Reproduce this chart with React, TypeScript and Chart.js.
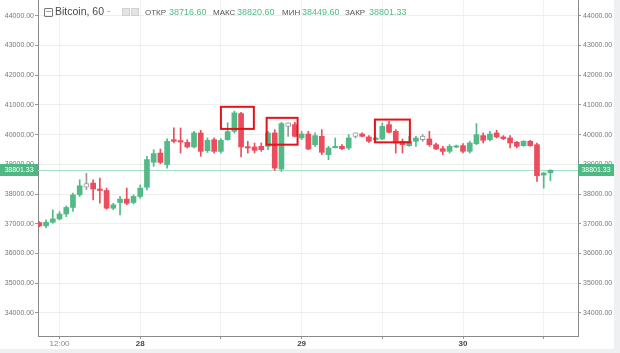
import React, { useEffect, useRef } from "react";
import { Chart, registerables } from "chart.js";
Chart.register(...registerables);

// hour offsets relative to 28 00:00; first candle is 27th 09:00
const START_HOUR = -15;
const opens = [37040, 36930, 37050, 37165, 37330, 37550, 37975, 38290, 38370, 38170, 38120, 37525, 37715, 37830, 37715, 37920, 38230, 39070, 39380, 38990, 39830, 39800, 39740, 39585, 40056, 39460, 39830, 39437, 39830, 40112, 40708, 39595, 39583, 39606, 39606, 40056, 38841, 40337, 40337, 39887, 40022, 39662, 39943, 39325, 39561, 39606, 39550, 39999, 40022, 39921, 39831, 39853, 40337, 40112, 39775, 39628, 39775, 39887, 39853, 39662, 39527, 39437, 39583, 39628, 39437, 39696, 39966, 39831, 40056, 39921, 39887, 39741, 39628, 39775, 39662, 38639, 38716.6];
const highs = [37075, 37130, 37470, 37410, 37600, 38030, 38480, 38700, 38480, 38537, 38200, 37690, 37920, 38200, 37975, 38310, 39270, 39490, 39516, 39855, 40225, 40225, 39830, 40110, 40146, 39890, 39890, 39870, 40400, 40790, 40753, 39775, 39718, 39718, 40112, 40168, 40416, 40393, 40416, 40112, 40112, 40056, 40168, 39606, 39887, 39662, 40000, 40056, 40056, 39966, 39921, 40393, 40450, 40168, 39853, 39943, 39943, 40000, 40112, 39718, 39606, 39662, 39650, 39696, 39775, 40371, 40056, 40110, 40146, 39966, 39966, 39775, 39800, 39808, 39718, 38729, 38820.6];
const lows = [36900, 36870, 37020, 37130, 37240, 37420, 37920, 38150, 37806, 37693, 37490, 37470, 37300, 37640, 37670, 37860, 38140, 38930, 39020, 38875, 39720, 39380, 39550, 39550, 39270, 39403, 39380, 39380, 39810, 40056, 39246, 39381, 39381, 39437, 39493, 38796, 38762, 39943, 39921, 39831, 39493, 39606, 39325, 39156, 39550, 39493, 39493, 39887, 39921, 39741, 39775, 39831, 40056, 39381, 39381, 39606, 39606, 39775, 39606, 39493, 39325, 39381, 39560, 39381, 39381, 39662, 39718, 39790, 39887, 39831, 39550, 39550, 39606, 39606, 38425, 38200, 38449.6];
const closes = [36930, 37050, 37165, 37330, 37550, 37975, 38280, 38290, 38170, 38120, 37525, 37640, 37830, 37690, 37920, 38200, 39160, 39360, 39066, 39775, 39775, 39750, 39585, 40056, 39437, 39808, 39437, 39808, 40100, 40730, 39583, 39550, 39471, 39493, 40056, 38874, 40371, 40337, 39943, 40022, 39516, 39966, 39403, 39550, 39606, 39527, 39887, 39999, 39943, 39775, 39887, 40281, 40078, 39718, 39662, 39775, 39887, 39887, 39662, 39516, 39437, 39606, 39617, 39437, 39718, 39999, 39808, 40022, 39921, 39865, 39718, 39606, 39775, 39628, 38616, 38706, 38801.33];

const yTicks = [34000, 35000, 36000, 37000, 38000, 39000, 40000, 41000, 42000, 43000, 44000];
const xTickHours = [-12, 0, 12, 24, 36, 48, 60];
const xTickLabels = ["12:00", "28", "", "29", "", "30", ""];
const lastPrice = 38801.33;
const headerValues = { open: "38716.60", high: "38820.60", low: "38449.60", close: "38801.33" };
// highlighted regions: [hourFrom, hourTo, priceTop, priceBottom]
const highlightBoxes = [
  [12.0, 16.9, 40935, 40192],
  [18.8, 23.4, 40564, 39662],
  [34.9, 40.1, 40506, 39740],
];

const GREEN = "#53b987";
const RED = "#eb4d5c";
const DOJI = "#9a9a9a";
const FONT = "'Liberation Sans', Arial, sans-serif";

export default function App() {
  const ref = useRef<HTMLCanvasElement | null>(null);
  useEffect(() => {
    document.body.style.margin = "0";
    const hours = opens.map((_, i) => START_HOUR + i);
    const isDoji = opens.map((o, i) => o === closes[i]);
    const colors = opens.map((o, i) => (isDoji[i] ? DOJI : closes[i] >= o ? GREEN : RED));
    const bodies = hours.map((h, i) => {
      let a = opens[i], b = closes[i];
      if (isDoji[i]) { a -= 60; b += 60; }
      else if (Math.abs(a - b) < 40) { const m = (a + b) / 2; a = m - 20; b = m + 20; }
      return { x: h, y: [a, b] };
    });
    const wicks = hours.map((h, i) => ({ x: h, y: [lows[i], highs[i]] }));

    const overlay = {
      id: "overlay",
      beforeDatasetsDraw(chart: any) {
        const { ctx, chartArea } = chart;
        const y = chart.scales.y.getPixelForValue(lastPrice);
        ctx.save();
        ctx.strokeStyle = "#a6e0c5";
        ctx.lineWidth = 1;
        ctx.beginPath();
        ctx.moveTo(chartArea.left, Math.round(y) + 0.5);
        ctx.lineTo(chartArea.right, Math.round(y) + 0.5);
        ctx.stroke();
        ctx.restore();
      },
      afterDatasetsDraw(chart: any) {
        const { ctx } = chart;
        const xs = chart.scales.x, ys = chart.scales.y;
        ctx.save();
        ctx.strokeStyle = "#e3131b";
        ctx.lineWidth = 2;
        highlightBoxes.forEach(([h0, h1, p0, p1]) => {
          const x0 = xs.getPixelForValue(h0), x1 = xs.getPixelForValue(h1);
          const y0 = ys.getPixelForValue(p0), y1 = ys.getPixelForValue(p1);
          ctx.strokeRect(x0, y0, x1 - x0, y1 - y0);
        });
        ctx.restore();
      },
      afterDraw(chart: any) {
        const { ctx, chartArea, width } = chart;
        const y = Math.round(chart.scales.y.getPixelForValue(lastPrice));
        ctx.save();
        ctx.fillStyle = "#4fb783";
        ctx.fillRect(0, y - 6, chartArea.left, 12);
        ctx.fillRect(chartArea.right, y - 6, width - chartArea.right, 12);
        ctx.fillStyle = "#ffffff";
        ctx.font = "7px " + FONT;
        ctx.textBaseline = "middle";
        ctx.textAlign = "center";
        ctx.fillText(lastPrice.toFixed(2), chartArea.left / 2, y);
        ctx.fillText(lastPrice.toFixed(2), (chartArea.right + width) / 2, y);
        ctx.restore();
      },
    };

    const yTickFont = { size: 7, family: FONT };
    const chart = new Chart(ref.current as HTMLCanvasElement, {
      type: "bar",
      data: {
        datasets: [
          {
            data: wicks as any,
            backgroundColor: colors,
            barThickness: 1,
            grouped: false,
            order: 2,
          } as any,
          {
            data: bodies as any,
            backgroundColor: opens.map((o, i) => (isDoji[i] ? "#ffffff" : colors[i])),
            borderColor: colors,
            borderWidth: isDoji.map((d) => (d ? 1 : 0)),
            borderSkipped: false,
            barThickness: 5,
            grouped: false,
            order: 1,
          } as any,
        ],
      },
      options: {
        animation: false,
        responsive: true,
        maintainAspectRatio: false,
        layout: { padding: 0 },
        plugins: { legend: { display: false }, tooltip: { enabled: false } },
        scales: {
          x: {
            type: "linear",
            offset: false,
            min: -15.2,
            max: 65.1,
            afterBuildTicks: (s: any) => { s.ticks = xTickHours.map((v) => ({ value: v })); },
            afterFit: (s: any) => { s.height = 13; },
            ticks: {
              autoSkip: false,
              maxRotation: 0,
              padding: 0,
              font: (c: any) => ({ size: 8, family: FONT, weight: c.index === 0 ? "normal" : "bold" }),
              color: (c: any) => (c.index === 0 ? "#888" : "#444"),
              callback: (_v: any, i: number) => xTickLabels[i],
            },
            grid: { offset: false, color: "#f2f2f2", tickLength: 3, tickColor: "#999" },
            border: { color: "#8a8a8a" },
          },
          y: {
            position: "left",
            min: 33226,
            max: 44528,
            afterBuildTicks: (s: any) => { s.ticks = yTicks.map((v) => ({ value: v })); },
            afterFit: (s: any) => { s.width = 38; s.paddingTop = 0; s.paddingBottom = 0; },
            ticks: { font: yTickFont, color: "#777", padding: 1, callback: (v: any) => Number(v).toFixed(2) },
            grid: { color: "#eeeeee", tickLength: 3, tickColor: "#999" },
            border: { color: "#8a8a8a" },
          },
          y2: {
            position: "right",
            min: 33226,
            max: 44528,
            afterBuildTicks: (s: any) => { s.ticks = yTicks.map((v) => ({ value: v })); },
            afterFit: (s: any) => { s.width = 36; s.paddingTop = 0; s.paddingBottom = 0; },
            ticks: { font: yTickFont, color: "#777", padding: 2, callback: (v: any) => Number(v).toFixed(2) },
            grid: { drawOnChartArea: false, tickLength: 3, tickColor: "#999" },
            border: { color: "#8a8a8a" },
          },
        },
      } as any,
      plugins: [overlay],
    });
    return () => chart.destroy();
  }, []);

  const label: React.CSSProperties = { position: "absolute", top: 8, fontSize: 8, color: "#555", fontFamily: FONT };
  const val: React.CSSProperties = { ...label, color: GREEN, fontSize: 9, top: 7 };
  return (
    <div style={{ width: 620, height: 353, background: "#eef0f2", position: "relative" }}>
      <div style={{ position: "absolute", left: 0, top: 0, width: 614, height: 349, background: "#ffffff" }}>
        <canvas ref={ref} />
      </div>
      <div style={{ position: "absolute", left: 0, top: 0, width: 614, height: 30, pointerEvents: "none" }}>
        <span style={{ position: "absolute", left: 44, top: 8, width: 7, height: 7, border: "1px solid #777", borderRadius: 1, fontSize: 8, lineHeight: "6px", textAlign: "center", color: "#777", fontFamily: "'DejaVu Sans'" }}>−</span>
        <span style={{ position: "absolute", left: 55, top: 5, fontSize: 10.5, color: "#4a4a4a", fontFamily: FONT }}>Bitcoin, 60</span>
        <span style={{ position: "absolute", left: 107, top: 5, fontSize: 10, color: "#aaa", fontFamily: FONT }}>-</span>
        <span style={{ position: "absolute", left: 122, top: 8, width: 6, height: 6, background: "#e4e4e4", border: "1px solid #d0d0d0" }} />
        <span style={{ position: "absolute", left: 131, top: 8, width: 6, height: 6, background: "#e4e4e4", border: "1px solid #d0d0d0" }} />
        <span style={{ ...label, left: 145 }}>ОТКР</span>
        <span style={{ ...val, left: 169 }}>{headerValues.open}</span>
        <span style={{ ...label, left: 213 }}>МАКС</span>
        <span style={{ ...val, left: 237 }}>{headerValues.high}</span>
        <span style={{ ...label, left: 282 }}>МИН</span>
        <span style={{ ...val, left: 302 }}>{headerValues.low}</span>
        <span style={{ ...label, left: 345 }}>ЗАКР</span>
        <span style={{ ...val, left: 369 }}>{headerValues.close}</span>
      </div>
    </div>
  );
}
